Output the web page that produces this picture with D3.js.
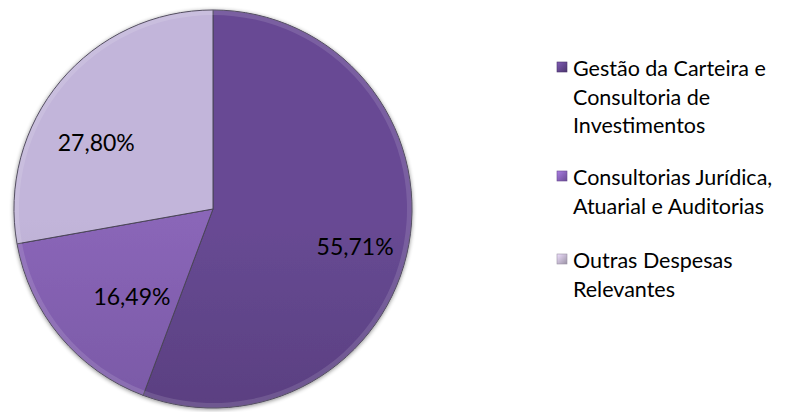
<!DOCTYPE html>
<html>
<head>
<meta charset="utf-8">
<script src="https://cdn.jsdelivr.net/npm/d3@7/dist/d3.min.js"></script>
<style>
  body { margin: 0; background: #fff; }
  svg { display: block; }
  text { font-family: Lato, "Open Sans", sans-serif; fill: #000; }
</style>
</head>
<body>
<svg width="799" height="412"></svg>
<script>
// values (percent)
var categories = ["Gestão da Carteira e Consultoria de Investimentos",
                  "Consultorias Jurídica, Atuarial e Auditorias",
                  "Outras Despesas Relevantes"];
var values = [55.71, 16.49, 27.80];
var labels = ["55,71%", "16,49%", "27,80%"];
// legend lines, as wrapped in the picture
var legendLines = [["Gestão da Carteira e", "Consultoria de", "Investimentos"],
                   ["Consultorias Jurídica,", "Atuarial e Auditorias"],
                   ["Outras Despesas", "Relevantes"]];

var topColors = ["#684a94", "#8a66b8", "#c2b5da"];
var bottomColors = ["#4b356c", "#684a92", "#9a92a4"];

var cx = 213, cy = 209, radius = 199;

var svg = d3.select("svg");
var defs = svg.append("defs");

// vertical gradient per slice (top light -> bottom dark)
topColors.forEach(function (c, i) {
  var g = defs.append("linearGradient")
    .attr("id", "grad" + i)
    .attr("gradientUnits", "userSpaceOnUse")
    .attr("x1", 0).attr("y1", cy - radius)
    .attr("x2", 0).attr("y2", cy + radius);
  g.append("stop").attr("offset", "0%").attr("stop-color", c);
  g.append("stop").attr("offset", "100%").attr("stop-color", bottomColors[i]);
});

// legend marker gradients (small bevelled squares)
topColors.forEach(function (c, i) {
  var g = defs.append("linearGradient")
    .attr("id", "mgrad" + i)
    .attr("x1", 0).attr("y1", 0).attr("x2", 1).attr("y2", 1);
  g.append("stop").attr("offset", "0%").attr("stop-color", d3.color(c).brighter(0.6));
  g.append("stop").attr("offset", "100%").attr("stop-color", bottomColors[i]);
});

var shadow = defs.append("filter").attr("id", "shadow")
  .attr("x", "-10%").attr("y", "-10%").attr("width", "120%").attr("height", "120%");
shadow.append("feGaussianBlur").attr("in", "SourceAlpha").attr("stdDeviation", 2).attr("result", "b");
shadow.append("feOffset").attr("in", "b").attr("dx", 0).attr("dy", 1).attr("result", "o");
shadow.append("feComponentTransfer").attr("in", "o").attr("result", "s")
  .append("feFuncA").attr("type", "linear").attr("slope", 0.45);
var merge = shadow.append("feMerge");
merge.append("feMergeNode").attr("in", "s");
merge.append("feMergeNode").attr("in", "SourceGraphic");

var pie = d3.pie().sort(null).value(function (d) { return d; });
var arcs = pie(values);

var arc = d3.arc().innerRadius(0).outerRadius(radius);
var bevel = d3.arc().innerRadius(radius - 5).outerRadius(radius);
var labelArc = d3.arc().innerRadius(radius * 0.7).outerRadius(radius * 0.7);
// excel "best fit" moves the labels a bit off the centroid
var labelNudge = [[5, 13], [26, -1], [-10, 23]];

var g = svg.append("g")
  .attr("transform", "translate(" + cx + "," + cy + ")");

g.append("g").attr("filter", "url(#shadow)")
  .selectAll("path.slice").data(arcs).enter().append("path")
  .attr("class", "slice")
  .attr("d", arc)
  .attr("fill", function (d, i) { return "url(#grad" + i + ")"; })
  .attr("stroke", "#4a4458")
  .attr("stroke-width", 1);

// light rim to fake the bevel
g.selectAll("path.rim").data(arcs).enter().append("path")
  .attr("class", "rim")
  .attr("d", bevel)
  .attr("fill", "#ffffff")
  .attr("opacity", 0.12);

g.selectAll("text.lbl").data(arcs).enter().append("text")
  .attr("class", "lbl")
  .attr("transform", function (d, i) {
    var c = labelArc.centroid(d);
    return "translate(" + (c[0] + labelNudge[i][0]) + "," + (c[1] + labelNudge[i][1]) + ")";
  })
  .attr("text-anchor", "middle")
  .attr("dy", "0.36em")
  .style("font-size", "23px")
  .text(function (d, i) { return labels[i]; });

// legend
var lineH = 28.5;
var entryTop = [76, 185, 268]; // baseline of first line of each entry
var legend = svg.append("g").attr("class", "legend");
var items = legend.selectAll("g.item").data(legendLines).enter().append("g")
  .attr("class", "item")
  .attr("transform", function (d, i) { return "translate(557," + entryTop[i] + ")"; });

items.append("rect")
  .attr("x", 0).attr("y", -14)
  .attr("width", 10).attr("height", 10)
  .attr("fill", function (d, i) { return "url(#mgrad" + i + ")"; })
  .attr("stroke", function (d, i) { return bottomColors[i]; })
  .attr("stroke-width", 0.6);

items.selectAll("text").data(function (d) { return d; }).enter().append("text")
  .attr("x", 16)
  .attr("y", function (d, j) { return j * lineH; })
  .style("font-size", "21.5px")
  .text(function (d) { return d; });
</script>
</body>
</html>
